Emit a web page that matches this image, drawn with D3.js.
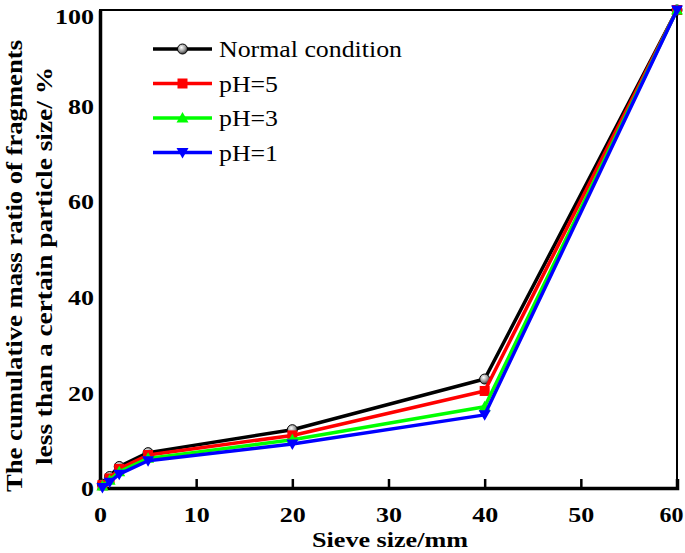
<!DOCTYPE html>
<html><head><meta charset="utf-8">
<script src="https://cdn.jsdelivr.net/npm/d3@7"></script>
<style>body{margin:0;background:#fff}svg{display:block}</style>
</head><body>
<script>
const sieveSizes = [0.25, 1, 2, 5, 20, 40, 60];
const seriesNames = ["Normal condition", "pH=5", "pH=3", "pH=1"];
const normalVals = [0.8, 2.4, 4.5, 7.4, 12.2, 22.8, 100];
const ph5Vals = [0.6, 2.0, 4.0, 6.9, 11.0, 20.3, 100];
const ph3Vals = [0.4, 1.6, 3.4, 6.2, 10.1, 17.0, 100];
const ph1Vals = [0.1, 1.2, 2.9, 5.7, 9.2, 15.3, 100];
const xTicks = [0, 10, 20, 30, 40, 50, 60];
const yTicks = [0, 20, 40, 60, 80, 100];
const colors = ["#000000", "#ff0000", "#00ff00", "#0000ff"];
const markers = ["circle", "square", "up", "down"];

const W = 685, H = 553;
const m = {l: 100, r: 8, t: 10, b: 65};
const svg = d3.select("body").append("svg").attr("width", W).attr("height", H);
const defs = svg.append("defs");
const grad = defs.append("radialGradient").attr("id", "ballg").attr("cx", "40%").attr("cy", "35%").attr("r", "65%");
grad.append("stop").attr("offset", "0%").attr("stop-color", "#ffffff");
grad.append("stop").attr("offset", "60%").attr("stop-color", "#999");
grad.append("stop").attr("offset", "100%").attr("stop-color", "#333");

const x = d3.scaleLinear().domain([0, 60]).range([m.l, W - m.r]);
const y = d3.scaleLinear().domain([0, 100]).range([H - m.b, m.t]);

const font = '"Liberation Serif", "DejaVu Serif", serif';
function fit(sel, w) { sel.attr("textLength", w).attr("lengthAdjust", "spacingAndGlyphs"); }

// frame
svg.append("rect").attr("x", m.l).attr("y", m.t).attr("width", W - m.r - m.l).attr("height", H - m.b - m.t)
  .attr("fill", "none").attr("stroke", "#000").attr("stroke-width", 2);

const xAxis = svg.append("g").attr("transform", `translate(0,${H - m.b})`)
  .call(d3.axisBottom(x).tickValues(xTicks).tickSize(-9).tickPadding(18).tickFormat(d3.format("d")));
const yAxis = svg.append("g").attr("transform", `translate(${m.l},0)`)
  .call(d3.axisLeft(y).tickValues(yTicks).tickSize(0).tickPadding(6).tickFormat(d3.format("d")));
[xAxis, yAxis].forEach(g => {
  g.select(".domain").attr("stroke-width", 3.5);
  g.selectAll(".tick line").attr("stroke-width", 2.5);
  g.selectAll("text").style("font-family", font).attr("font-weight", "bold").attr("font-size", 22).attr("fill", "#000")
    .each(function(d) { fit(d3.select(this), 13 * String(d).length); });
});
yAxis.selectAll("text").attr("dy", "0.35em");
yAxis.selectAll("text").filter(d => d === 100).attr("dy", "0.6em");
xAxis.selectAll("text").filter(d => d === 60).attr("x", -6).attr("textLength", 24);

const allVals = [normalVals, ph5Vals, ph3Vals, ph1Vals];
const line = d3.line().x(d => x(d[0])).y(d => y(d[1]));

function drawMarker(g, type, cx, cy, color, s) {
  if (type === "circle") {
    g.append("circle").attr("cx", cx).attr("cy", cy).attr("r", s * 0.5).attr("fill", "url(#ballg)").attr("stroke", "#000").attr("stroke-width", 1);
  } else if (type === "square") {
    g.append("rect").attr("x", cx - s / 2).attr("y", cy - s / 2).attr("width", s).attr("height", s).attr("fill", color);
  } else if (type === "up") {
    g.append("path").attr("d", `M${cx},${cy - s * 0.6}L${cx + s * 0.6},${cy + s * 0.45}L${cx - s * 0.6},${cy + s * 0.45}Z`).attr("fill", color);
  } else {
    g.append("path").attr("d", `M${cx},${cy + s * 0.6}L${cx + s * 0.6},${cy - s * 0.45}L${cx - s * 0.6},${cy - s * 0.45}Z`).attr("fill", color);
  }
}

allVals.forEach((vals, i) => {
  const data = sieveSizes.map((s, k) => [s, vals[k]]);
  svg.append("path").datum(data).attr("d", line).attr("fill", "none")
    .attr("stroke", colors[i]).attr("stroke-width", 3.5).attr("stroke-linejoin", "round");
  const g = svg.append("g");
  data.forEach(d => drawMarker(g, markers[i], x(d[0]), y(d[1]), colors[i], 10));
});

// legend
const lg = svg.append("g");
const legendW = [183, 59, 59, 59];
seriesNames.forEach((n, i) => {
  const ly = 49 + i * 34.5;
  lg.append("line").attr("x1", 153).attr("x2", 212).attr("y1", ly).attr("y2", ly).attr("stroke", colors[i]).attr("stroke-width", 3.5);
  drawMarker(lg, markers[i], 182.5, ly, colors[i], 10);
  const t = lg.append("text").attr("x", 219).attr("y", ly).attr("dy", "0.35em").style("font-family", font)
    .attr("font-size", 24).text(n);
  fit(t, legendW[i]);
});

// axis titles
const xt = svg.append("text").attr("x", 390).attr("y", 547).attr("text-anchor", "middle")
  .style("font-family", font).attr("font-weight", "bold").attr("font-size", 22).text("Sieve size/mm");
fit(xt, 156);
const yt = svg.append("g").attr("transform", `translate(0,266) rotate(-90)`);
const y1 = yt.append("text").attr("x", 0).attr("y", 22).attr("text-anchor", "middle").style("font-family", font)
  .attr("font-weight", "bold").attr("font-size", 24).text("The cumulative mass ratio of fragments");
fit(y1, 452);
const y2 = yt.append("text").attr("x", 0).attr("y", 52).attr("text-anchor", "middle").style("font-family", font)
  .attr("font-weight", "bold").attr("font-size", 24).text("less than a certain particle size/ %");
fit(y2, 398);
</script>
</body></html>
